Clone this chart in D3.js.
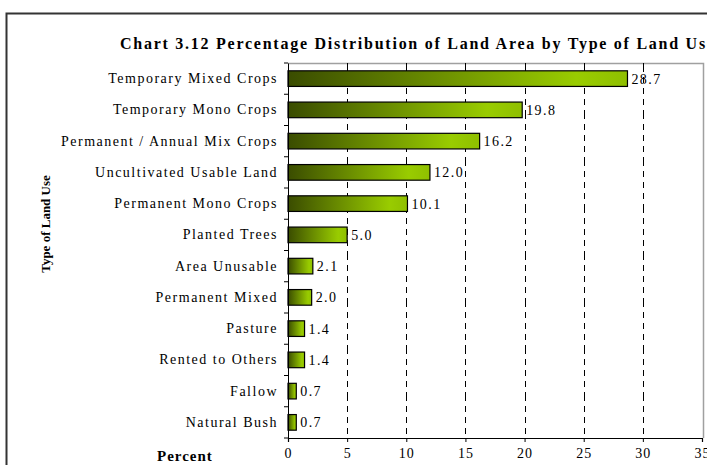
<!DOCTYPE html>
<html>
<head>
<meta charset="utf-8">
<script src="https://cdn.jsdelivr.net/npm/d3@7"></script>
<style>
  body { margin: 0; background: #fff; }
  text { font-family: "Liberation Serif", "Times New Roman", serif; }
</style>
</head>
<body>
<div id="viz"></div>
<script>
// land use types, top to bottom
let categories = ["Temporary Mixed Crops", "Temporary Mono Crops", "Permanent / Annual Mix Crops",
  "Uncultivated Usable Land", "Permanent Mono Crops", "Planted Trees", "Area Unusable",
  "Permanent Mixed", "Pasture", "Rented to Others", "Fallow", "Natural Bush"];
let percents = [28.7, 19.8, 16.2, 12.0, 10.1, 5.0, 2.1, 2.0, 1.4, 1.4, 0.7, 0.7];
let xTicks = [0, 5, 10, 15, 20, 25, 30, 35];

var width = 707, height = 465;
var margin = {top: 63, right: 5, bottom: 27, left: 288};

var svg = d3.select('#viz').append('svg')
  .attr('width', width)
  .attr('height', height);

var grad = svg.append('defs').append('linearGradient')
  .attr('id', 'barGrad')
  .attr('x1', '0%').attr('x2', '100%').attr('y1', '0%').attr('y2', '0%');
grad.append('stop').attr('offset', '0%').attr('stop-color', '#3a4c00');
grad.append('stop').attr('offset', '85%').attr('stop-color', '#99cc00');
grad.append('stop').attr('offset', '100%').attr('stop-color', '#8fbf00');

// outer chart frame
svg.append('path')
  .attr('d', 'M6.5,' + height + ' V13.5 H' + width)
  .attr('fill', 'none')
  .attr('stroke', '#333')
  .attr('stroke-width', 2);

var x = d3.scaleLinear()
  .domain([0, 35])
  .range([margin.left, 702]);
var y = d3.scaleBand()
  .domain(categories)
  .range([margin.top, height - margin.bottom])
  .paddingInner(0.5)
  .paddingOuter(0.25);

var plotBottom = height - margin.bottom;

// plot area border (grey)
svg.append('path')
  .attr('d', 'M' + margin.left + ',' + (margin.top + 0.5) + ' H703.5 V' + plotBottom)
  .attr('fill', 'none')
  .attr('stroke', '#a0a0a0')
  .attr('stroke-width', 1.5);

// dashed grid
svg.append('g')
  .selectAll('line')
  .data(xTicks.slice(1, -1))
  .join('line')
  .attr('x1', d => Math.round(x(d)) + 0.5)
  .attr('x2', d => Math.round(x(d)) + 0.5)
  .attr('y1', margin.top)
  .attr('y2', plotBottom)
  .attr('stroke', '#000')
  .attr('stroke-width', 1)
  .attr('stroke-dasharray', '9,5,6,5,6,5,6,5');

// bars
svg.append('g')
  .selectAll('rect')
  .data(percents)
  .join('rect')
  .attr('x', x(0))
  .attr('y', (d, i) => y(categories[i]))
  .attr('width', d => x(d) - x(0))
  .attr('height', y.bandwidth())
  .attr('fill', 'url(#barGrad)')
  .attr('stroke', '#000')
  .attr('stroke-width', 1.2);

// value labels
svg.append('g')
  .selectAll('text')
  .data(percents)
  .join('text')
  .attr('x', d => x(d) + 4)
  .attr('y', (d, i) => y(categories[i]) + y.bandwidth() / 2)
  .attr('dy', '0.35em')
  .attr('font-size', 14)
  .attr('letter-spacing', 1.4)
  .text(d => d.toFixed(1));

// y axis
var yAxis = d3.axisLeft(y).tickSize(0).tickPadding(10);
var gy = svg.append('g')
  .attr('transform', 'translate(' + margin.left + ',0)')
  .call(yAxis);
gy.select('.domain').attr('stroke', '#000');
gy.selectAll('text')
  .attr('font-size', 14)
  .attr('letter-spacing', 1.5)
  .attr('fill', '#000');
// tick marks between categories
var step = y.step();
svg.append('g')
  .selectAll('line')
  .data(d3.range(categories.length + 1))
  .join('line')
  .attr('x1', margin.left - 4)
  .attr('x2', margin.left)
  .attr('y1', i => margin.top + i * step)
  .attr('y2', i => margin.top + i * step)
  .attr('stroke', '#000');

// x axis
var xAxis = d3.axisBottom(x).tickValues(xTicks).tickSize(4).tickPadding(6).tickFormat(d3.format('d'));
var gx = svg.append('g')
  .attr('transform', 'translate(0,' + plotBottom + ')')
  .call(xAxis);
gx.select('.domain').attr('stroke', '#000').attr('stroke-width', 1.2);
gx.selectAll('text')
  .attr('font-size', 14)
  .attr('letter-spacing', 1)
  .attr('fill', '#000');

// titles
svg.append('text')
  .attr('x', 120)
  .attr('y', 49)
  .attr('font-size', 16)
  .attr('font-weight', 'bold')
  .attr('textLength', 594)
  .text('Chart 3.12 Percentage Distribution of Land Area by Type of Land Use');

svg.append('text')
  .attr('transform', 'translate(45,224) rotate(-90)')
  .attr('dy', '0.35em')
  .attr('text-anchor', 'middle')
  .attr('font-size', 13)
  .attr('font-weight', 'bold')
  .text('Type of Land Use');

svg.append('text')
  .attr('x', 157)
  .attr('y', 461)
  .attr('font-size', 15)
  .attr('font-weight', 'bold')
  .attr('letter-spacing', 1)
  .text('Percent');
</script>
</body>
</html>
